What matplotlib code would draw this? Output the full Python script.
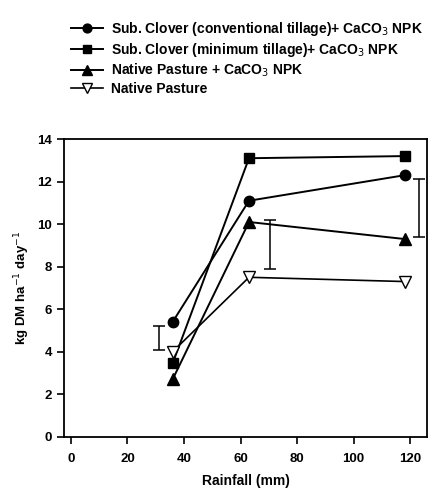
import matplotlib.pyplot as plt

plt.rcParams['font.family'] = ['Liberation Sans', 'DejaVu Sans']

rainfall = [36, 63, 118]
clover_conv = [5.4, 11.1, 12.3]
clover_min = [3.45, 13.1, 13.2]
native_fert = [2.7, 10.1, 9.3]
native = [4.0, 7.5, 7.3]

# LSD bars: x, low, high
lsd_x = [31, 70.5, 123]
lsd_lo = [4.1, 7.9, 9.4]
lsd_hi = [5.2, 10.2, 12.1]

labels = [
    'Sub. Clover (conventional tillage)+ CaCO$_3$ NPK',
    'Sub. Clover (minimum tillage)+ CaCO$_3$ NPK',
    'Native Pasture + CaCO$_3$ NPK',
    'Native Pasture',
]

fig = plt.figure(figsize=(4.31, 4.88), dpi=100)
ax = fig.add_axes([0.148, 0.105, 0.843, 0.61])

ax.plot(rainfall, clover_conv, '-o', color='black', lw=1.4, ms=7.5, label=labels[0])
ax.plot(rainfall, clover_min, '-s', color='black', lw=1.4, ms=7, label=labels[1])
ax.plot(rainfall, native_fert, '-^', color='black', lw=1.4, ms=8, label=labels[2])
ax.plot(rainfall, native, '-v', color='black', mfc='white', lw=1.2, ms=8.5, label=labels[3])

for x, lo, hi in zip(lsd_x, lsd_lo, lsd_hi):
    mid = (lo + hi) / 2
    ax.errorbar([x], [mid], yerr=[[mid - lo], [hi - mid]], color='black',
                lw=1.1, capsize=4, capthick=1.1, fmt='none')

ax.set_xlim(-2.5, 126)
ax.set_ylim(0, 14)
ax.set_xticks([0, 20, 40, 60, 80, 100, 120])
ax.set_yticks([0, 2, 4, 6, 8, 10, 12, 14])
ax.tick_params(direction='out', length=5, width=1.2, labelsize=9.5)
ax.tick_params(axis='x', pad=7)
for lab in ax.get_xticklabels() + ax.get_yticklabels():
    lab.set_fontweight('bold')
for sp in ax.spines.values():
    sp.set_linewidth(1.3)

ax.set_xlabel('Rainfall (mm)', fontsize=10, fontweight='bold', labelpad=6)
ax.set_ylabel('kg DM ha$^{-1}$ day$^{-1}$', fontsize=9.5, fontweight='bold')

fig.legend(loc='upper left', bbox_to_anchor=(0.135, 0.985), frameon=False,
           handlelength=2.3, labelspacing=0.2, handletextpad=0.6, markerscale=0.85,
           prop={'weight': 'bold', 'size': 10})

fig.savefig('out.png', dpi=100)
